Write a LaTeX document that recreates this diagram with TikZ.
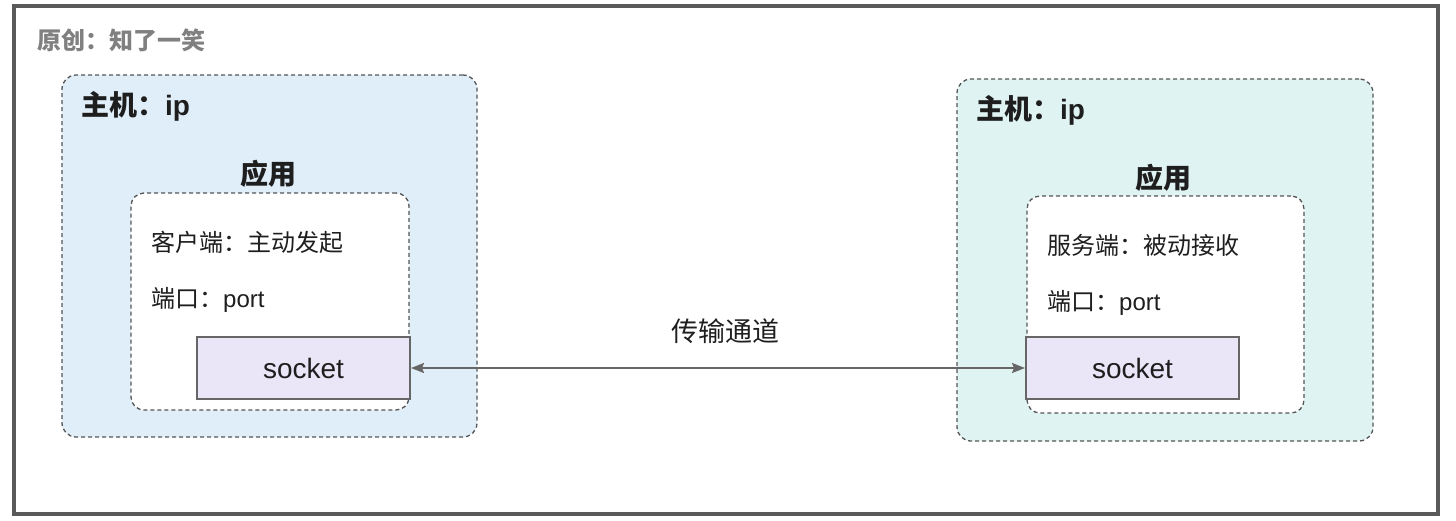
\documentclass[tikz,border=0pt]{standalone}
\usepackage{fontspec}
\setmainfont{Liberation Sans}
\newfontfamily\cjk{Noto Sans CJK SC}
\usetikzlibrary{arrows.meta}
\definecolor{framegray}{RGB}{90,90,90}
\definecolor{markgray}{RGB}{128,128,128}
\definecolor{dashgray}{RGB}{85,85,85}
\definecolor{hostblue}{RGB}{224,238,249}
\definecolor{hostteal}{RGB}{224,243,243}
\definecolor{sockfill}{RGB}{234,230,248}
\definecolor{sockline}{RGB}{102,102,102}
\definecolor{txt}{RGB}{30,30,30}
\tikzset{
  hostbox/.style={draw=dashgray, line width=1.3pt, dash pattern=on 4pt off 3pt, rounded corners=14pt, inner sep=0pt, minimum width=#1},
  appbox/.style={draw=dashgray, fill=white, line width=1.3pt, dash pattern=on 4pt off 3pt, rounded corners=13pt, inner sep=0pt, minimum width=#1, minimum height=217pt},
  sockbox/.style={draw=sockline, fill=sockfill, line width=2pt, inner sep=0pt, minimum width=213pt, minimum height=62pt, font=\fontsize{28}{32}\selectfont, text=txt},
  hosttitle/.style={anchor=west, inner sep=0pt, font=\bfseries\fontsize{28}{32}\selectfont, text=txt},
  apptitle/.style={inner sep=0pt, font=\cjk\bfseries\fontsize{28}{32}\selectfont, text=txt},
  content/.style={anchor=west, inner sep=0pt, font=\fontsize{24}{28}\selectfont, text=txt},
  link/.style={draw=sockline, line width=2pt, {Stealth[length=13pt,width=10pt,inset=2pt]}-{Stealth[length=13pt,width=10pt,inset=2pt]}},
}
\begin{document}
\begin{tikzpicture}[x=1pt,y=-1pt]
\useasboundingbox (0,0) rectangle (1456,520);
\draw[line width=4pt, framegray] (13.5,5.5) rectangle (1438,514);
\node[anchor=west, inner sep=0pt, font=\cjk\bfseries\fontsize{24}{28}\selectfont, text=markgray] (mark) at (37,40) {原创：知了一笑};
% left host
\node[hostbox=415pt, minimum height=362pt, fill=hostblue] (lhost) at (269.5,256) {};
\node[hosttitle] (lhosttitle) at (81,106) {{\cjk 主机：}ip};
\node[apptitle] (lapptitle) at (268.5,174) {应用};
\node[appbox=278pt] (lapp) at (270,301.5) {};
\node[content] (lrole) at (151,242) {{\cjk 客户端：主动发起}};
\node[content] (lport) at (151,300) {{\cjk 端口：}port};
\node[sockbox] (lsock) at (303.5,368) {socket};
% right host
\node[hostbox=416pt, minimum height=362pt, fill=hostteal] (rhost) at (1165,260) {};
\node[hosttitle] (rhosttitle) at (976,110) {{\cjk 主机：}ip};
\node[apptitle] (rapptitle) at (1163,178) {应用};
\node[appbox=277pt] (rapp) at (1165.5,304.5) {};
\node[content] (rrole) at (1047,245) {{\cjk 服务端：被动接收}};
\node[content] (rport) at (1047,303) {{\cjk 端口：}port};
\node[sockbox] (rsock) at (1132.5,368) {socket};
% link
\draw[link] (lsock.east) -- (rsock.west);
\node[inner sep=0pt, font=\cjk\fontsize{27}{30}\selectfont, text=txt] (linklabel) at (725,331) {传输通道};
\end{tikzpicture}
\end{document}
